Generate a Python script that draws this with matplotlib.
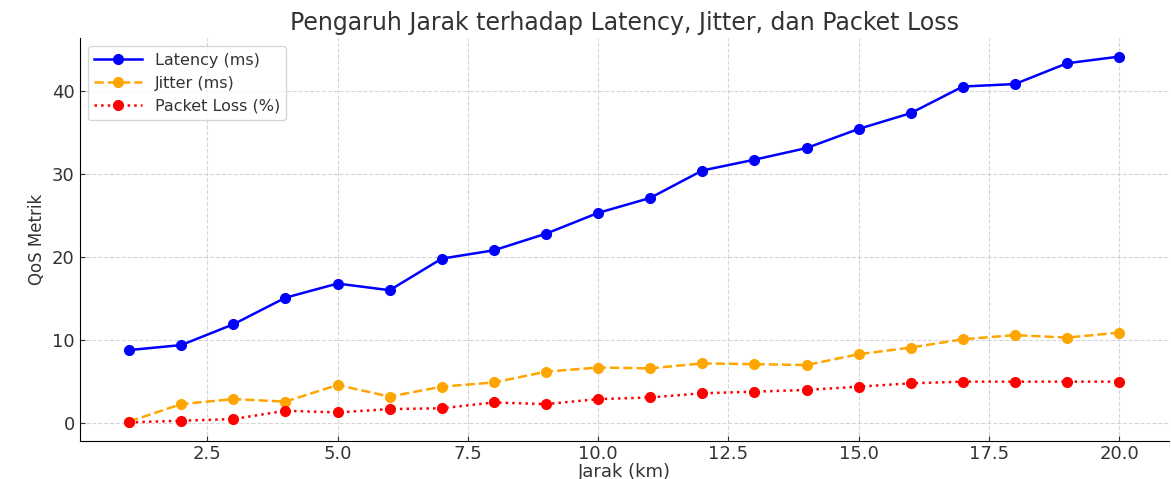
import matplotlib
matplotlib.use('Agg')
import matplotlib.pyplot as plt

# data
jarak = list(range(1, 21))
latency = [8.8, 9.4, 11.9, 15.1, 16.8, 16.0, 19.8, 20.8, 22.8, 25.3,
           27.1, 30.4, 31.7, 33.1, 35.4, 37.3, 40.5, 40.8, 43.3, 44.1]
jitter = [0.2, 2.3, 2.9, 2.6, 4.6, 3.2, 4.4, 4.9, 6.2, 6.7,
          6.6, 7.2, 7.1, 7.0, 8.3, 9.1, 10.1, 10.6, 10.3, 10.9]
packet_loss = [0.1, 0.3, 0.5, 1.5, 1.3, 1.7, 1.8, 2.5, 2.3, 2.9,
               3.1, 3.6, 3.8, 4.0, 4.4, 4.8, 5.0, 5.0, 5.0, 5.0]

plt.rcParams['text.color'] = '#333333'
plt.rcParams['axes.labelcolor'] = '#333333'
plt.rcParams['xtick.color'] = '#333333'
plt.rcParams['ytick.color'] = '#333333'

fig, ax = plt.subplots(figsize=(11.71, 4.79), dpi=100)

ax.plot(jarak, latency, marker='o', linestyle='-', color='blue', lw=1.8, ms=7, label='Latency (ms)')
ax.plot(jarak, jitter, marker='o', linestyle='--', color='orange', lw=1.8, ms=7, label='Jitter (ms)')
ax.plot(jarak, packet_loss, marker='o', linestyle=':', color='red', lw=1.8, ms=7, label='Packet Loss (%)')

ax.set_title('Pengaruh Jarak terhadap Latency, Jitter, dan Packet Loss', fontsize=17, pad=6)
ax.set_xlabel('Jarak (km)', fontsize=13, labelpad=0)
ax.set_ylabel('QoS Metrik', fontsize=12)
ax.tick_params(labelsize=13, direction='in')
ax.tick_params(axis='x', pad=3)
ax.grid(True, linestyle='--', color='#cccccc', alpha=0.8)
ax.spines['top'].set_visible(False)
ax.spines['right'].set_visible(False)
ax.legend(loc='upper left', fontsize=11.5, handlelength=3)

fig.subplots_adjust(left=0.068, right=0.998, top=0.92, bottom=0.08)
fig.savefig('out.png', dpi=100)
